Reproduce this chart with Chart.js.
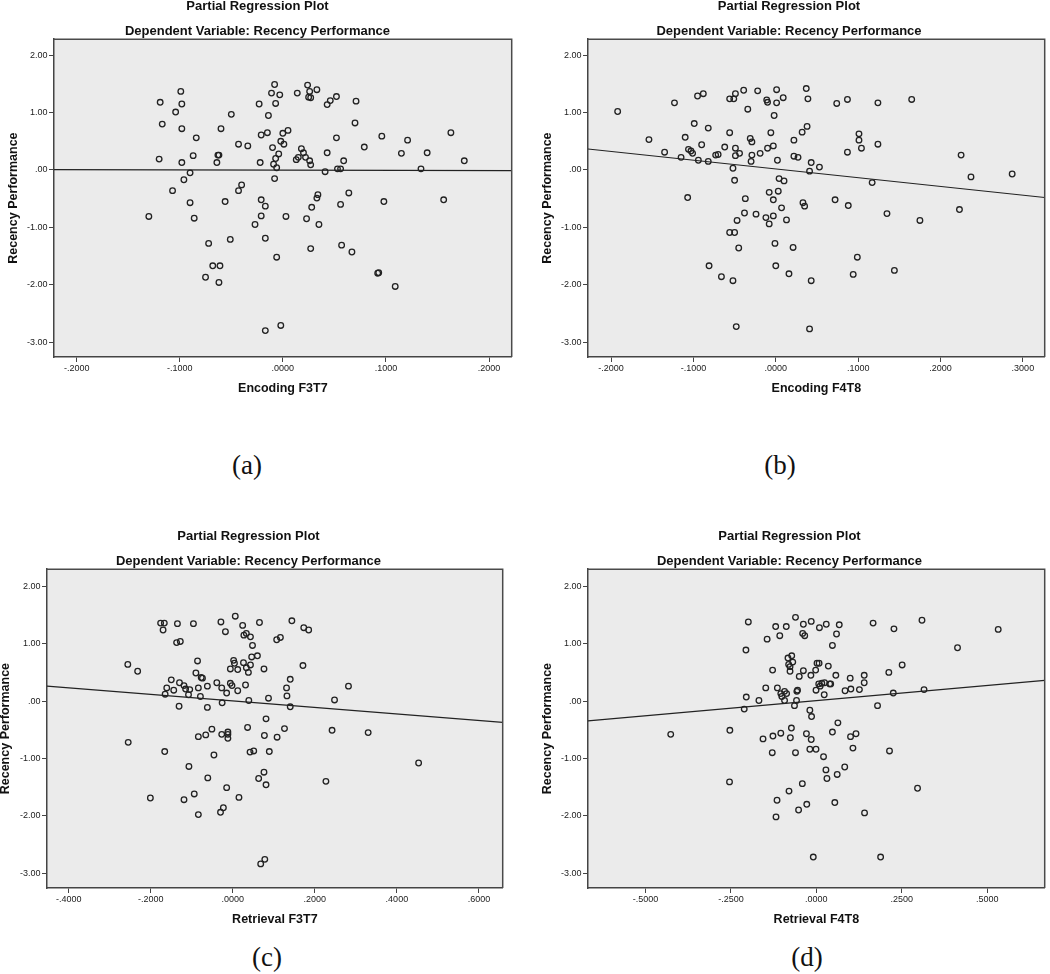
<!DOCTYPE html>
<html>
<head>
<meta charset="utf-8">
<script src="https://cdn.jsdelivr.net/npm/chart.js@4.4.1/dist/chart.umd.min.js"></script>
<style>
  html, body { margin: 0; padding: 0; background: #ffffff; }
  body { width: 1050px; height: 974px; position: relative; overflow: hidden; }
  canvas { position: absolute; }
  .cap { position: absolute; font-family: "Liberation Serif", "Times New Roman", serif; font-size: 27px; color: #111; transform: translate(-50%, -50%); white-space: nowrap; }
</style>
</head>
<body>
<canvas id="ca"></canvas>
<canvas id="cb"></canvas>
<canvas id="cc"></canvas>
<canvas id="cd"></canvas>
<div class="cap" style="left:247px; top:465px;">(a)</div>
<div class="cap" style="left:780px; top:465px;">(b)</div>
<div class="cap" style="left:267px; top:957px;">(c)</div>
<div class="cap" style="left:807px; top:957px;">(d)</div>
<script>
// ---------------- DATA ----------------
const mainTitle = 'Partial Regression Plot';
const subTitle = 'Dependent Variable: Recency Performance';
const yTitle = 'Recency Performance';

const yTickValues = [-3, -2, -1, 0, 1, 2];
const yTickLabels = ['-3.00', '-2.00', '-1.00', '.00', '1.00', '2.00'];

// Panel (a): Encoding F3T7
const aTitleX = 'Encoding F3T7';
const aTickValues = [-0.2, -0.1, 0, 0.1, 0.2];
const aTickLabels = ['-.2000', '-.1000', '.0000', '.1000', '.2000'];
const aX = [-0.119,-0.099,-0.098,-0.104,-0.117,-0.098,-0.084,-0.120,-0.098,-0.087,-0.090,-0.096,-0.107,-0.090,-0.130,-0.086,-0.050,-0.060,-0.062,-0.063,-0.064,-0.043,-0.034,-0.040,-0.043,-0.056,-0.027,-0.051,-0.023,-0.011,-0.008,-0.003,-0.007,-0.014,-0.021,-0.015,0.000,0.005,-0.002,0.001,-0.010,-0.004,-0.007,-0.022,-0.009,-0.006,-0.008,-0.021,-0.017,-0.021,0.003,0.014,0.024,0.026,0.025,0.027,0.033,0.043,0.046,0.052,0.071,0.070,0.052,0.018,0.020,0.015,0.013,0.022,0.026,0.027,0.043,0.059,0.053,0.056,0.041,0.064,0.034,0.033,0.056,0.028,0.023,0.035,0.079,0.096,0.121,0.115,0.140,0.134,0.098,0.156,0.163,0.176,-0.072,-0.017,-0.068,-0.061,-0.075,-0.062,-0.006,0.027,0.057,0.067,0.092,0.093,0.109,-0.017,-0.002];
const aY = [1.18,1.37,1.15,1.01,0.80,0.72,0.56,0.19,0.13,0.25,-0.05,-0.17,-0.36,-0.57,-0.81,-0.84,0.97,0.72,0.26,0.26,0.13,0.45,0.42,-0.26,-0.36,-0.55,-0.95,-1.21,1.15,1.34,1.49,1.31,1.16,0.95,0.61,0.65,0.64,0.69,0.50,0.45,0.39,0.28,0.20,0.13,0.10,0.04,-0.15,-0.52,-0.63,-0.80,-0.81,1.34,1.48,1.37,1.27,1.26,1.40,1.14,1.21,1.28,1.20,0.82,0.56,0.37,0.30,0.22,0.18,0.22,0.16,0.09,0.30,0.16,0.02,0.02,-0.03,-0.40,-0.43,-0.49,-0.60,-0.65,-0.85,-0.95,0.40,0.59,0.52,0.29,0.30,0.02,-0.55,-0.52,0.65,0.16,-1.28,-1.19,-1.67,-1.67,-1.87,-1.96,-1.52,-1.37,-1.31,-1.43,-1.80,-1.79,-2.03,-2.80,-2.71];
const aFitX = [-0.222, 0.222];
const aFitY = [0.005, -0.01];

// Panel (b): Encoding F4T8
const bTitleX = 'Encoding F4T8';
const bTickValues = [-0.2, -0.1, 0, 0.1, 0.2, 0.3];
const bTickLabels = ['-.2000', '-.1000', '.0000', '.1000', '.2000', '.3000'];
const bX = [-0.192,-0.154,-0.123,-0.135,-0.115,-0.110,-0.106,-0.103,-0.101,-0.099,-0.095,-0.088,-0.094,-0.090,-0.082,-0.082,-0.073,-0.070,-0.062,-0.107,-0.056,-0.051,-0.049,-0.039,-0.034,-0.056,-0.049,-0.049,-0.044,-0.052,-0.050,-0.031,-0.029,-0.029,-0.030,-0.019,-0.022,-0.011,-0.010,0.001,0.001,0.009,-0.002,-0.006,-0.010,-0.003,0.002,0.004,0.010,-0.008,0.003,-0.037,-0.003,0.007,-0.038,-0.024,-0.012,-0.003,0.013,-0.047,-0.008,-0.056,-0.050,0.037,0.039,0.038,0.032,0.022,0.022,0.027,0.043,0.041,0.053,0.033,0.035,0.072,0.074,0.087,0.087,0.088,0.101,0.101,0.104,0.124,0.124,0.117,0.135,0.165,0.175,0.225,0.237,0.287,0.223,-0.045,-0.001,0.021,0.099,-0.081,-0.066,-0.052,0.000,0.016,0.043,0.094,0.144,-0.048,0.041];
const bY = [1.02,0.53,1.17,0.31,0.22,0.57,0.36,0.33,0.29,0.81,1.29,1.33,0.17,0.44,0.73,0.15,0.26,0.27,0.40,-0.48,1.24,1.24,1.33,1.39,1.06,0.65,0.38,0.25,0.29,0.03,-0.18,0.55,0.49,0.26,0.15,0.29,1.38,1.22,1.18,1.17,1.40,1.26,0.95,0.65,0.38,0.42,0.17,-0.15,-0.19,-0.39,-0.37,-0.50,-0.52,-0.66,-0.75,-0.77,-0.83,-0.80,-0.87,-0.88,-0.94,-1.09,-1.09,1.42,1.24,0.76,0.66,0.52,0.24,0.22,0.13,-0.02,0.05,-0.57,-0.63,-0.52,1.16,1.23,0.31,-0.62,0.63,0.52,0.38,1.17,0.45,-0.22,-0.76,1.23,-0.88,0.26,-0.12,-0.07,-0.69,-1.36,-1.28,-1.35,-1.52,-1.67,-1.86,-1.93,-1.67,-1.81,-1.93,-1.82,-1.75,-2.73,-2.77];
const bFitX = [-0.228, 0.3265];
const bFitY = [0.366, -0.48];

// Panel (c): Retrieval F3T7
const cTitleX = 'Retrieval F3T7';
const cTickValues = [-0.4, -0.2, 0, 0.2, 0.4, 0.6];
const cTickLabels = ['-.4000', '-.2000', '.0000', '.2000', '.4000', '.6000'];
const cX = [-0.256,-0.232,-0.176,-0.167,-0.170,-0.135,-0.137,-0.128,-0.096,-0.086,-0.090,-0.077,-0.074,-0.150,-0.130,-0.119,-0.161,-0.144,-0.115,-0.105,-0.165,-0.108,-0.084,-0.062,-0.079,-0.039,-0.027,-0.015,-0.006,-0.002,0.012,0.031,-0.029,-0.018,0.006,0.024,0.027,0.033,0.043,0.048,0.065,0.002,0.004,0.026,0.043,0.046,0.060,-0.006,0.012,0.033,0.038,0.076,0.107,0.116,0.144,0.173,0.185,0.171,0.140,0.131,0.132,0.039,0.087,0.248,0.282,-0.131,-0.062,-0.026,0.140,0.081,-0.051,0.036,0.126,0.242,0.330,-0.084,-0.066,-0.027,-0.012,-0.012,-0.012,0.077,0.108,-0.255,-0.166,-0.046,0.042,0.051,0.089,-0.107,-0.061,0.076,0.063,0.081,-0.015,0.227,0.453,-0.201,-0.119,-0.094,0.015,-0.023,-0.030,-0.084,0.068,0.078];
const cY = [0.64,0.52,1.36,1.36,1.24,1.35,1.02,1.04,1.35,0.70,0.49,0.41,0.40,0.37,0.32,0.27,0.23,0.19,0.21,0.20,0.12,0.11,0.23,0.26,0.08,0.32,0.23,0.14,0.31,0.27,0.18,0.28,1.38,1.21,1.48,1.32,1.15,1.18,1.12,0.97,1.37,0.71,0.66,0.67,0.63,0.77,0.79,0.56,0.55,0.58,0.50,0.56,1.07,1.11,1.40,1.28,1.24,0.62,0.38,0.23,0.09,0.01,0.05,0.02,0.26,-0.09,-0.11,-0.03,-0.10,-0.31,-0.49,-0.46,-0.48,-0.51,-0.55,-0.62,-0.59,-0.58,-0.54,-0.58,-0.65,-0.60,-0.63,-0.72,-0.88,-0.94,-0.89,-0.87,-0.88,-1.14,-1.34,-1.24,-1.35,-1.46,-1.51,-1.40,-1.08,-1.69,-1.72,-1.62,-1.68,-1.86,-1.94,-1.98,-2.84,-2.76];
const cFitX = [-0.453, 0.658];
const cFitY = [0.26, -0.37];

// Panel (d): Retrieval F4T8
const dTitleX = 'Retrieval F4T8';
const dTickValues = [-0.5, -0.25, 0, 0.25, 0.5];
const dTickLabels = ['-.5000', '-.2500', '.0000', '.2500', '.5000'];
const dX = [-0.199,-0.206,-0.205,-0.211,-0.168,-0.144,-0.119,-0.107,-0.088,-0.128,-0.148,-0.114,-0.104,-0.093,-0.087,-0.101,-0.093,-0.061,-0.038,-0.015,0.009,0.029,0.067,-0.040,-0.034,0.059,0.047,-0.083,-0.072,-0.069,-0.081,-0.077,-0.077,-0.038,-0.050,-0.016,-0.002,0.002,0.008,0.035,0.057,-0.055,-0.057,-0.058,-0.064,-0.001,0.007,0.016,0.011,0.024,0.039,0.042,0.023,0.084,0.101,0.126,0.099,0.140,0.140,0.166,0.227,0.212,0.251,0.225,0.309,0.315,0.179,0.413,0.532,-0.019,-0.014,0.063,-0.426,-0.253,-0.073,-0.156,-0.127,-0.104,-0.076,-0.029,-0.015,0.047,0.100,0.116,-0.129,-0.061,-0.019,-0.001,0.021,0.107,0.214,0.028,0.083,0.061,0.031,-0.041,-0.254,-0.080,0.296,-0.115,-0.028,-0.052,0.054,-0.118,0.141,-0.009,0.188];
const dY = [1.38,0.89,0.07,-0.14,0.01,1.08,1.30,1.14,1.30,0.54,0.23,0.23,0.13,0.17,0.13,0.08,0.01,1.46,1.34,1.39,1.28,1.34,1.33,1.18,1.14,1.17,0.97,0.75,0.79,0.68,0.64,0.52,0.60,0.53,0.43,0.45,0.54,0.66,0.66,0.61,0.45,0.19,0.17,0.01,-0.08,0.19,0.30,0.31,0.26,0.32,0.30,0.30,0.11,0.18,0.21,0.20,0.40,0.45,0.32,1.36,1.26,0.50,0.63,0.14,1.41,0.20,-0.08,0.93,1.25,-0.16,-0.27,-0.38,-0.58,-0.51,-0.47,-0.66,-0.61,-0.56,-0.64,-0.57,-0.67,-0.54,-0.62,-0.57,-0.90,-0.90,-0.84,-0.84,-0.97,-0.82,-0.87,-1.20,-1.15,-1.28,-1.35,-1.44,-1.41,-1.57,-1.52,-1.73,-1.80,-1.90,-1.77,-2.02,-1.95,-2.72,-2.72];
const dFitX = [-0.668, 0.668];
const dFitY = [-0.347, 0.36];

// ---------------- RENDERING ----------------
Chart.defaults.font.family = '"Liberation Sans", Arial, sans-serif';
Chart.defaults.color = '#222';

const frame = {
  id: 'frame',
  beforeDraw(chart) {
    const {ctx, chartArea: a} = chart;
    ctx.save();
    ctx.fillStyle = '#ebebeb';
    ctx.fillRect(a.left, a.top, a.right - a.left, a.bottom - a.top);
    ctx.restore();
  },
  afterDraw(chart) {
    const {ctx, chartArea: a} = chart;
    ctx.save();
    ctx.strokeStyle = '#4a4a4a';
    ctx.lineWidth = 1.5;
    ctx.beginPath();
    ctx.moveTo(a.left, a.top);
    ctx.lineTo(a.right, a.top);
    ctx.lineTo(a.right, a.bottom);
    ctx.stroke();
    ctx.restore();
  }
};

function zip(xs, ys) { return xs.map((x, i) => ({x: x, y: ys[i]})); }

function makePanel(id, p) {
  const cv = document.getElementById(id);
  cv.width = p.w; cv.height = p.h;
  cv.style.left = p.left + 'px'; cv.style.top = p.top + 'px';
  cv.style.width = p.w + 'px'; cv.style.height = p.h + 'px';
  new Chart(cv, {
    type: 'scatter',
    data: {
      datasets: [
        {
          data: zip(p.xs, p.ys),
          pointStyle: 'circle',
          pointRadius: 2.8,
          pointBorderWidth: 1.3,
          borderColor: '#222',
          backgroundColor: 'rgba(0,0,0,0)',
          order: 1
        },
        {
          type: 'line',
          data: zip(p.fx, p.fy),
          showLine: true,
          pointRadius: 0,
          borderColor: '#222',
          borderWidth: 1.2,
          fill: false,
          order: 2
        }
      ]
    },
    options: {
      responsive: false,
      animation: false,
      devicePixelRatio: 1,
      layout: { padding: { left: 0, right: p.padRight, top: 0, bottom: 0 } },
      plugins: {
        legend: { display: false },
        tooltip: { enabled: false },
        title: {
          display: true, text: mainTitle, color: '#111',
          font: { size: 13, weight: 'bold' },
          padding: { top: 2, bottom: 9 }
        },
        subtitle: {
          display: true, text: subTitle, color: '#111',
          font: { size: 13, weight: 'bold' },
          padding: { top: 0, bottom: 0 }
        }
      },
      scales: {
        x: {
          type: 'linear',
          min: p.xmin, max: p.xmax,
          afterBuildTicks: s => { s.ticks = p.xticks.map(v => ({value: v})); },
          afterFit: s => { s.height = 50; },
          ticks: {
            font: { size: 9 }, color: '#222', padding: 1.6, maxRotation: 0,
            callback: (v) => { const i = p.xticks.findIndex(t => Math.abs(t - v) < 1e-9); return i >= 0 ? p.xlabels[i] : ''; }
          },
          grid: { drawOnChartArea: false, drawTicks: true, tickLength: 5, color: '#444', lineWidth: 1 },
          border: { display: true, color: '#444', width: 1.5 },
          title: { display: true, text: p.xtitle, color: '#111', font: { size: 12.5, weight: 'bold' }, padding: { top: 0, bottom: 10.5 } }
        },
        y: {
          type: 'linear',
          min: p.ymin, max: p.ymax,
          afterBuildTicks: s => { s.ticks = yTickValues.map(v => ({value: v})); },
          afterFit: s => { s.width = p.yw; },
          ticks: {
            font: { size: 9 }, color: '#222', padding: 1.5,
            callback: (v) => { const i = yTickValues.indexOf(v); return i >= 0 ? yTickLabels[i] : ''; }
          },
          grid: { drawOnChartArea: false, drawTicks: true, tickLength: 5, color: '#444', lineWidth: 1 },
          border: { display: true, color: '#444', width: 1.5 },
          title: { display: true, text: yTitle, color: '#111', font: { size: 12.5, weight: 'bold' }, padding: { top: p.ytp, bottom: 0 } }
        }
      }
    },
    plugins: [frame]
  });
}

makePanel('ca', { left: 0, top: -3, w: 517, h: 410, padRight: 2, yw: 54, ytp: 6.5,
  xs: aX, ys: aY, fx: aFitX, fy: aFitY, xmin: -0.222, xmax: 0.222, ymin: -3.26, ymax: 2.28,
  xticks: aTickValues, xlabels: aTickLabels, xtitle: aTitleX });
makePanel('cb', { left: 530, top: -3, w: 520, h: 410, padRight: 2, yw: 58, ytp: 10.5,
  xs: bX, ys: bY, fx: bFitX, fy: bFitY, xmin: -0.228, xmax: 0.3265, ymin: -3.26, ymax: 2.28,
  xticks: bTickValues, xlabels: bTickLabels, xtitle: bTitleX });
makePanel('cc', { left: -10, top: 527, w: 518, h: 411, padRight: 1, yw: 57, ytp: 8,
  xs: cX, ys: cY, fx: cFitX, fy: cFitY, xmin: -0.453, xmax: 0.658, ymin: -3.26, ymax: 2.30,
  xticks: cTickValues, xlabels: cTickLabels, xtitle: cTitleX });
makePanel('cd', { left: 530, top: 527, w: 520, h: 411, padRight: 1, yw: 58, ytp: 10,
  xs: dX, ys: dY, fx: dFitX, fy: dFitY, xmin: -0.668, xmax: 0.668, ymin: -3.26, ymax: 2.30,
  xticks: dTickValues, xlabels: dTickLabels, xtitle: dTitleX });
</script>
</body>
</html>
